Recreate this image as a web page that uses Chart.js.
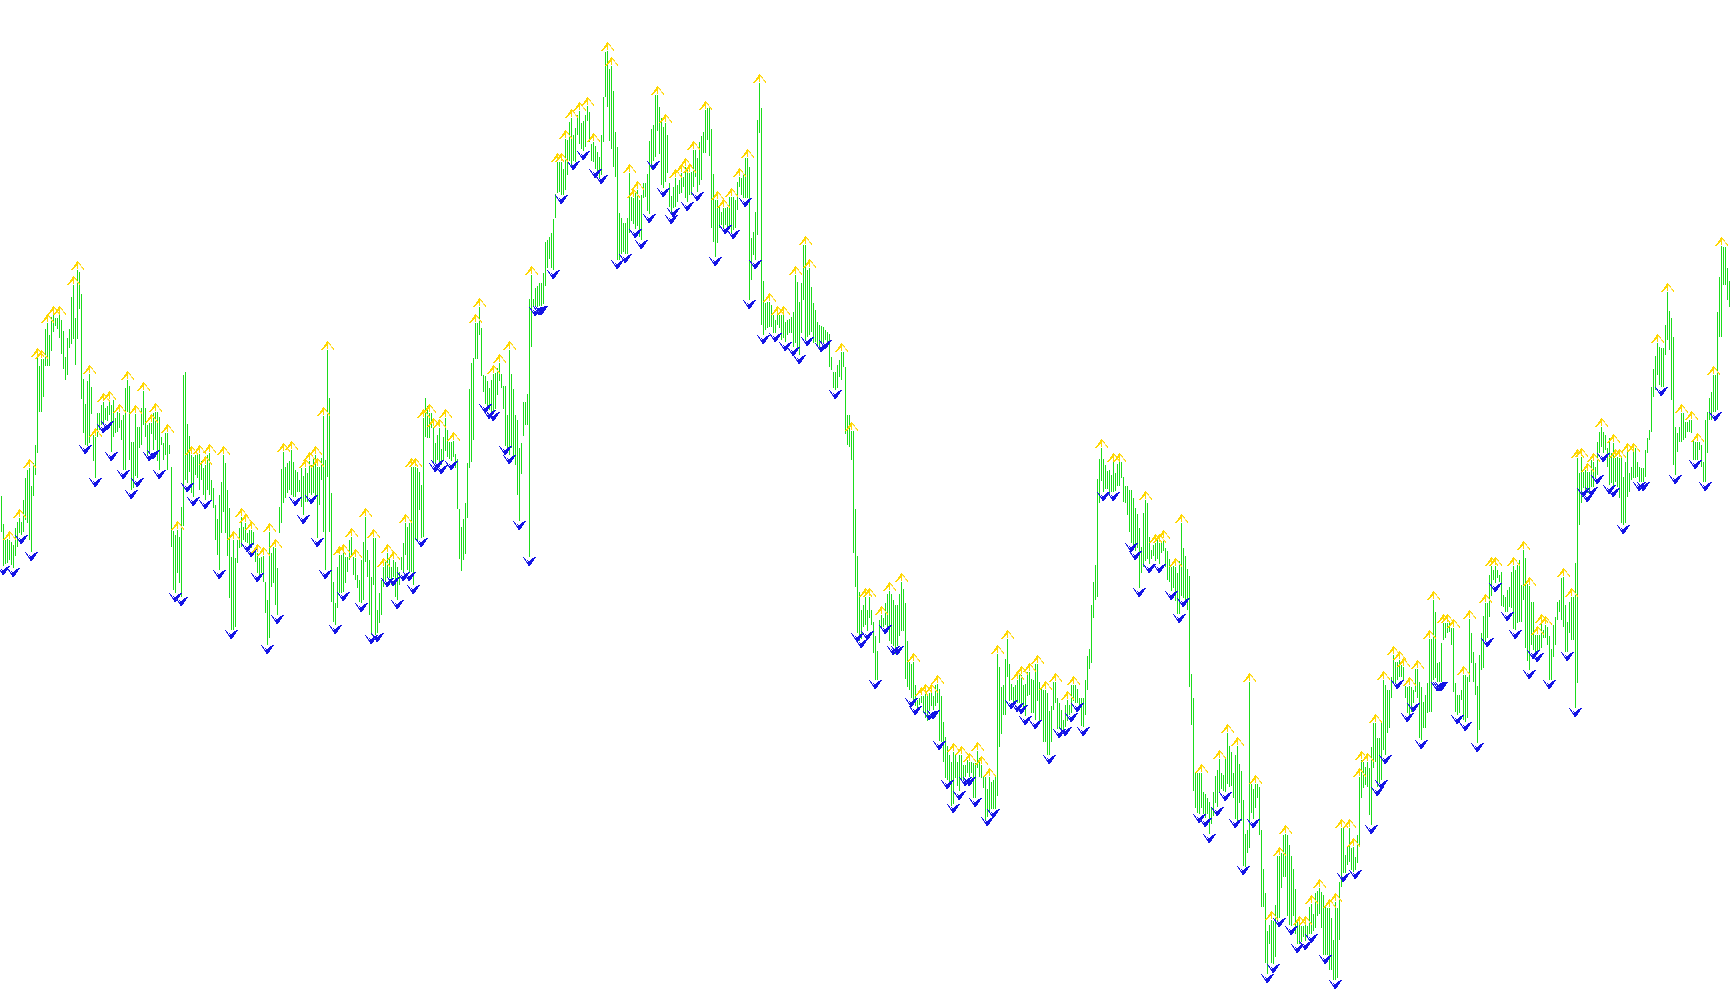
<!DOCTYPE html>
<html>
<head>
<meta charset="utf-8">
<title>chart</title>
<script src="https://cdn.jsdelivr.net/npm/chart.js@4"></script>
<style>
html,body{margin:0;padding:0;background:#fff;overflow:hidden}
canvas{display:block}
</style>
</head>
<body>
<canvas id="chart" width="1730" height="1005"></canvas>
<script>
// bar tops (the axis runs downward)
var highs = [
496,524,540,539,540,542,545,528,522,518,
522,500,478,470,468,486,463,445,357,366,
359,359,329,323,335,317,315,318,318,315,
320,331,357,338,329,297,285,318,270,272,
294,379,404,381,374,387,435,437,413,413,
405,402,408,406,400,405,400,418,412,413,
420,415,388,380,386,442,442,414,427,427,
408,391,408,425,423,423,413,412,412,417,
437,443,433,433,445,467,531,535,530,537,
507,375,372,424,436,455,457,455,455,454,
461,468,465,455,453,480,488,505,519,495,
482,455,463,490,508,557,540,558,540,528,
517,527,523,533,530,530,532,548,553,558,
557,556,582,600,532,553,547,548,568,507,
469,452,467,463,461,450,462,470,472,480,
468,476,468,473,461,465,457,455,467,467,
458,416,460,350,398,493,582,603,567,555,
555,553,557,557,540,537,557,558,575,580,
560,542,517,550,560,577,538,538,610,593,
580,567,560,553,557,567,560,562,567,572,
557,543,523,527,523,467,467,467,468,472,
485,418,398,406,413,413,427,443,435,428,
449,437,418,430,442,442,441,454,459,509,
527,519,503,463,389,363,358,323,323,307,
328,375,376,381,388,380,374,373,368,363,
374,386,386,415,350,374,389,415,420,448,
443,402,402,394,299,275,299,288,286,283,
283,273,242,240,237,233,219,194,162,162,
162,169,139,140,122,118,135,128,115,111,
123,121,115,106,112,144,142,146,152,157,
135,97,52,51,69,66,91,132,147,213,
218,223,223,218,173,197,198,192,190,200,
195,183,183,174,141,129,125,95,95,107,
118,127,123,135,183,196,187,178,185,180,
173,177,167,170,173,172,150,150,158,142,
136,132,110,108,108,129,174,200,200,205,
212,208,208,207,197,197,197,200,182,177,
178,173,158,158,167,238,232,212,120,83,
108,281,303,302,302,305,315,320,315,315,
315,315,322,320,319,317,312,275,282,302,
283,245,245,270,268,287,303,310,322,325,
326,327,330,332,334,357,372,372,365,360,
352,352,367,415,415,431,431,509,556,592,
610,605,597,610,597,610,622,636,651,620,
615,618,603,594,591,594,600,605,605,594,
582,589,603,641,662,664,662,685,700,698,
696,696,693,696,693,693,696,685,684,689,
696,722,737,746,755,762,752,755,762,755,
755,765,765,760,762,762,763,763,751,758,
765,777,777,789,777,782,780,777,654,667,
687,685,659,639,664,684,687,685,680,674,
675,685,684,672,672,679,680,664,664,682,
689,690,690,693,711,706,682,682,698,703,
710,720,705,700,705,685,685,685,689,698,
698,698,680,656,649,605,582,565,479,459,
448,459,465,471,470,475,462,473,464,462,
462,477,486,486,490,490,498,508,514,528,
547,513,500,503,537,550,545,543,540,543,
543,539,548,551,559,567,566,567,573,561,
523,548,556,569,576,674,698,773,773,773,
773,792,794,798,802,808,792,776,770,759,
773,775,757,733,746,752,773,755,746,764,
771,800,834,830,682,784,789,784,784,787,
830,869,893,931,925,920,921,905,856,856,
853,835,834,835,845,856,869,889,921,925,
926,926,925,926,907,904,914,893,891,888,
892,895,905,908,908,918,940,902,908,882,
828,828,855,847,828,848,847,857,835,777,
760,762,767,762,768,747,723,723,738,738,
723,680,685,690,690,677,655,662,662,660,
665,667,686,687,686,687,690,669,669,682,
687,702,695,683,639,639,600,612,663,662,
643,623,623,623,623,628,628,683,695,695,
690,675,675,677,619,633,652,663,686,655,
633,616,603,603,575,566,570,566,570,575,
572,595,597,590,587,572,566,570,565,560,
585,550,558,584,586,602,602,635,635,635,
623,630,625,627,636,649,625,617,602,600,
578,577,605,622,602,597,597,563,458,473,
457,472,470,472,472,460,462,467,442,432,
427,432,435,448,438,453,443,458,457,458,
458,477,462,452,473,467,452,448,462,467,
468,468,450,438,430,387,369,356,343,347,
348,348,325,292,311,318,337,427,433,427,
413,413,422,422,420,420,440,442,442,442,
445,462,420,412,398,392,375,375,312,277,
246,247,247,268,281
];

// bar bottoms
var lows = [
532,566,564,563,560,565,568,556,547,533,
535,532,520,523,540,552,496,475,453,412,
412,397,366,366,366,351,332,326,329,338,
354,369,380,375,348,344,339,365,339,309,
399,433,445,446,443,414,461,478,437,430,
425,424,420,421,415,452,437,433,432,428,
440,470,470,412,460,490,488,476,478,448,
445,425,437,455,452,434,450,440,461,470,
445,460,455,470,454,547,590,593,573,583,
597,526,480,483,472,493,497,475,478,490,
480,495,500,490,495,500,508,540,555,570,
533,512,533,556,598,630,630,627,563,548,
547,540,542,543,546,548,545,562,573,577,
573,582,613,645,638,587,583,605,615,533,
523,503,498,493,490,495,497,497,492,492,
507,515,502,502,493,495,493,497,538,505,
480,532,570,477,532,602,622,625,608,593,
593,592,583,572,560,557,575,580,588,602,
603,600,562,577,615,635,585,635,633,623,
615,587,582,578,578,585,577,597,600,585,
570,572,555,570,572,572,585,540,540,510,
538,537,437,438,438,428,463,463,460,465,
465,461,451,457,459,461,457,468,509,559,
571,560,554,518,468,462,440,359,359,335,
376,392,404,409,410,412,412,409,395,381,
388,409,446,448,455,448,458,465,495,521,
474,436,425,425,557,347,306,307,307,306,
306,304,286,268,259,268,270,218,193,192,
195,195,190,175,161,166,161,162,135,144,
149,151,147,121,142,161,162,169,173,178,
175,142,97,107,141,149,167,177,260,260,
254,252,254,254,233,221,224,229,226,237,
240,198,197,211,214,169,161,157,131,154,
185,188,182,173,207,215,208,207,202,194,
193,187,198,202,195,195,187,177,192,185,
180,153,153,140,156,228,242,257,243,228,
225,228,225,230,227,233,230,228,210,187,
195,198,198,198,300,280,255,260,235,133,
325,335,330,328,327,327,333,333,325,328,
340,338,342,335,333,333,347,343,348,355,
333,300,340,337,335,332,343,342,345,348,
343,343,340,345,367,370,388,390,388,377,
380,367,434,445,447,460,553,587,633,641,
639,627,625,631,618,625,653,680,680,643,
627,627,625,627,641,644,646,654,646,636,
631,631,679,687,690,698,701,706,708,705,
703,713,718,721,711,706,710,706,703,741,
742,762,778,780,786,806,804,778,786,791,
780,780,777,773,777,773,798,798,768,777,
778,788,820,817,813,809,809,809,796,747,
734,715,715,677,701,700,703,703,703,703,
705,711,716,696,695,713,713,720,701,721,
721,742,742,755,755,742,710,703,729,729,
732,734,727,721,715,713,701,703,703,708,
726,727,715,690,669,663,618,600,597,503,
481,492,489,489,494,492,492,491,486,486,
478,502,503,515,532,543,545,551,548,588,
573,567,561,559,564,559,556,561,559,564,
553,551,567,580,582,591,588,601,614,614,
596,598,601,610,687,725,791,808,813,814,
808,814,818,814,834,824,816,803,807,792,
789,791,792,784,787,786,798,819,821,803,
821,866,867,853,848,813,819,808,798,835,
907,907,963,974,944,963,964,957,921,918,
888,877,877,916,925,926,916,934,944,944,
942,937,941,936,934,934,931,928,916,914,
928,955,955,955,970,970,980,980,978,940,
887,873,873,865,862,870,872,870,863,847,
798,788,785,787,815,825,768,762,787,783,
780,750,755,733,728,698,683,683,680,677,
677,680,698,713,715,712,703,692,698,738,
740,728,728,713,712,712,680,678,682,682,
682,640,638,633,632,645,692,712,715,713,
700,720,722,718,682,663,682,695,743,730,
670,668,642,638,617,596,580,583,578,582,
606,607,612,612,607,608,629,630,623,622,
622,600,648,661,670,645,650,653,653,650,
648,638,638,645,680,680,657,645,620,612,
620,627,652,652,633,640,640,708,683,525,
503,488,495,493,493,487,487,478,475,453,
447,453,450,467,485,483,488,482,487,498,
523,525,523,497,492,480,478,478,477,482,
482,482,477,453,440,432,397,390,375,385,
387,387,355,340,350,400,465,475,452,442,
442,440,438,432,432,433,460,460,460,450,
467,482,482,453,420,420,412,412,410,337,
337,285,285,300,307
];

// bars that carry an up arrow on top
var upFractals = [
4,9,14,18,20,23,26,29,36,38,44,47,51,54,59,63,67,71,75,77,83,88,95,99,102,104,
111,116,120,122,125,128,131,134,137,141,145,152,154,157,158,161,163,169,171,175,177,
182,186,191,193,196,202,205,207,211,214,216,219,222,226,237,239,246,249,254,265,
278,280,282,285,289,293,296,303,305,314,316,318,328,332,337,340,342,344,346,352,
358,361,365,369,373,379,384,388,391,397,402,404,420,425,432,434,440,444,450,456,
460,462,465,468,476,480,484,488,490,494,498,503,508,510,514,518,522,527,533,536,
550,556,559,572,577,579,581,587,590,600,609,613,618,624,627,635,639,642,649,652,
655,659,664,667,670,674,676,679,680,683,687,691,696,699,701,704,708,714,716,721,
723,726,731,734,742,745,747,756,761,764,768,770,772,781,785,788,790,793,796,800,
806,807,809,813,816,828,833,840,845,848,856,860
];

// bars that carry a down arrow below
var downFractals = [
1,6,10,15,42,47,51,53,55,61,65,68,74,76,79,87,90,93,96,102,109,115,123,125,128,133,
138,147,151,155,158,162,167,171,180,185,188,193,196,198,201,204,206,210,217,218,
220,225,242,244,246,252,254,259,264,267,269,270,276,280,286,291,297,300,308,312,
317,320,324,326,331,335,336,343,348,357,362,366,372,374,377,381,387,392,396,399,
403,410,412,417,428,430,433,437,442,446,448,455,457,464,466,469,473,476,479,482,
484,487,493,496,505,508,510,512,517,524,529,532,535,538,541,551,556,565,567,569,
574,579,585,589,591,599,602,604,608,612,617,621,626,633,636,639,645,648,652,655,
662,667,671,677,685,688,690,692,698,703,706,710,718,719,720,728,732,738,743,747,
753,757,764,766,768,774,783,787,791,793,795,798,801,804,806,811,819,821,830,837,
847,852,857
];

// the arrows are little pixel glyphs, # solid and o pale
var upGlyph = [
"......#......",
".....###.....",
".....##o#....",
"....###.o#...",
"...####..o...",
"...##.#...o..",
"..##..#...o#.",
".##...#....o#",
"##..........#"
];
var downGlyph = [
"#..........##",
".#.......###.",
".o#.....###..",
"..#.#..####..",
"...#.#####...",
"...o#####....",
"....#####....",
".....###.....",
".....##......"
];

// sprite is twice as high as the glyph so the glyph sits just off the point
function makeArrow(rows, solid, pale, below) {
  var c = document.createElement('canvas');
  c.width = rows[0].length;
  c.height = rows.length * 2;
  var g = c.getContext('2d');
  rows.forEach(function(row, y) {
    row.split('').forEach(function(ch, x) {
      if (ch == '.') return;
      g.fillStyle = ch == '#' ? solid : pale;
      g.fillRect(x, below ? y + rows.length : y, 1, 1);
    });
  });
  return c;
}

var upArrow = makeArrow(upGlyph, '#ffd700', '#ffe56e', false);
var downArrow = makeArrow(downGlyph, '#1414e6', '#5a5af0', true);

var ctx = document.getElementById('chart').getContext('2d');
var chart = new Chart(ctx, {
  type: 'bar',
  data: {
    datasets: [{
      type: 'scatter',
      data: upFractals.map(function(i) { return {x: i, y: highs[i]}; }),
      pointStyle: upArrow,
      pointRadius: 4,
      clip: false,
      order: 1
    }, {
      type: 'scatter',
      data: downFractals.map(function(i) { return {x: i, y: lows[i]}; }),
      pointStyle: downArrow,
      pointRadius: 4,
      clip: false,
      order: 1
    }, {
      type: 'bar',
      data: highs.map(function(h, i) { return {x: i, y: [h, lows[i]]}; }),
      backgroundColor: '#1cdc1c',
      borderWidth: 0,
      barThickness: 1,
      inflateAmount: 0, // auto would smear the 1px bars
      order: 2
    }]
  },
  options: {
    responsive: false,
    devicePixelRatio: 1,
    animation: false,
    layout: {padding: 0, autoPadding: false},
    plugins: {legend: {display: false}, tooltip: {enabled: false}},
    scales: {
      x: {type: 'linear', display: false, offset: false, min: -0.75, max: 864.25},
      y: {display: false, reverse: true, min: 0, max: 1005}
    }
  }
});
</script>
</body>
</html>
